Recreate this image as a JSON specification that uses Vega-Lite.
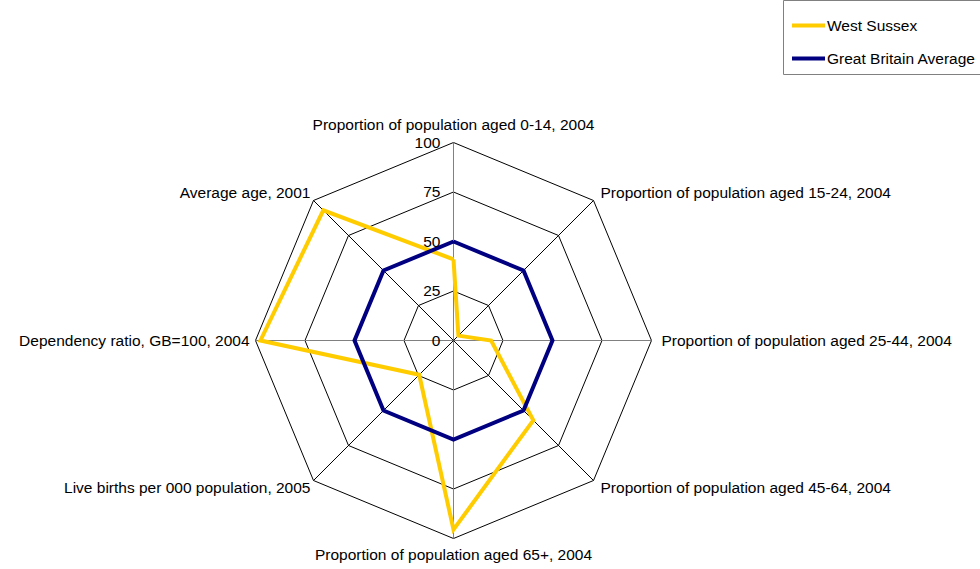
{
 "$schema": "https://vega.github.io/schema/vega-lite/v6.json",
 "width": 980, "height": 569, "padding": 0, "autosize": {"type": "none"},
 "background": "white",
 "config": {"view": {"stroke": null}, "font": "Liberation Sans", "text": {"font": "Liberation Sans", "fontSize": 15.5, "color": "black"}},
 "datasets": {
  "series": [
   {"series": "West Sussex", "idx": 0, "value": 41},
   {"series": "West Sussex", "idx": 1, "value": 3.5},
   {"series": "West Sussex", "idx": 2, "value": 19},
   {"series": "West Sussex", "idx": 3, "value": 57},
   {"series": "West Sussex", "idx": 4, "value": 95.5},
   {"series": "West Sussex", "idx": 5, "value": 24.5},
   {"series": "West Sussex", "idx": 6, "value": 97.5},
   {"series": "West Sussex", "idx": 7, "value": 93},
   {"series": "West Sussex", "idx": 8, "value": 41},
   {"series": "Great Britain Average", "idx": 0, "value": 50},
   {"series": "Great Britain Average", "idx": 1, "value": 50},
   {"series": "Great Britain Average", "idx": 2, "value": 50},
   {"series": "Great Britain Average", "idx": 3, "value": 50},
   {"series": "Great Britain Average", "idx": 4, "value": 50},
   {"series": "Great Britain Average", "idx": 5, "value": 50},
   {"series": "Great Britain Average", "idx": 6, "value": 50},
   {"series": "Great Britain Average", "idx": 7, "value": 50},
   {"series": "Great Britain Average", "idx": 8, "value": 50}
  ],
  "axes": [
   {"idx": 0, "axis": "Proportion of population aged 0-14, 2004"},
   {"idx": 1, "axis": "Proportion of population aged 15-24, 2004"},
   {"idx": 2, "axis": "Proportion of population aged 25-44, 2004"},
   {"idx": 3, "axis": "Proportion of population aged 45-64, 2004"},
   {"idx": 4, "axis": "Proportion of population aged 65+, 2004"},
   {"idx": 5, "axis": "Live births per 000 population, 2005"},
   {"idx": 6, "axis": "Dependency ratio, GB=100, 2004"},
   {"idx": 7, "axis": "Average age, 2001"}
  ],
  "grid": [
   {"k": 0, "levels": [25, 50, 75, 100]},
   {"k": 1, "levels": [25, 50, 75, 100]},
   {"k": 2, "levels": [25, 50, 75, 100]},
   {"k": 3, "levels": [25, 50, 75, 100]},
   {"k": 4, "levels": [25, 50, 75, 100]},
   {"k": 5, "levels": [25, 50, 75, 100]},
   {"k": 6, "levels": [25, 50, 75, 100]},
   {"k": 7, "levels": [25, 50, 75, 100]},
   {"k": 8, "levels": [25, 50, 75, 100]}
  ],
  "levels": [{"level": 0}, {"level": 25}, {"level": 50}, {"level": 75}, {"level": 100}]
 },
 "layer": [
  {
   "data": {"name": "grid"},
   "transform": [
    {"flatten": ["levels"], "as": ["level"]},
    {"calculate": "datum.level * sin(datum.k * PI / 4)", "as": "x"},
    {"calculate": "datum.level * cos(datum.k * PI / 4)", "as": "y"}
   ],
   "mark": {"type": "line", "stroke": "black", "strokeWidth": 1},
   "encoding": {
    "x": {"field": "x", "type": "quantitative", "axis": null, "scale": {"domain": [-229.04, 265.91], "nice": false, "zero": false}},
    "y": {"field": "y", "type": "quantitative", "axis": null, "scale": {"domain": [-115.4, 171.97], "nice": false, "zero": false}},
    "detail": {"field": "level", "type": "nominal"},
    "order": {"field": "k", "type": "quantitative"}
   }
  },
  {
   "data": {"name": "axes"},
   "transform": [
    {"calculate": "100 * sin(datum.idx * PI / 4)", "as": "x"},
    {"calculate": "100 * cos(datum.idx * PI / 4)", "as": "y"}
   ],
   "mark": {"type": "rule", "strokeWidth": 1},
   "encoding": {
    "x": {"field": "x", "type": "quantitative", "axis": null, "scale": {"domain": [-229.04, 265.91], "nice": false, "zero": false}},
    "y": {"field": "y", "type": "quantitative", "axis": null, "scale": {"domain": [-115.4, 171.97], "nice": false, "zero": false}},
    "x2": {"datum": 0},
    "y2": {"datum": 0},
    "stroke": {"condition": {"test": "datum.idx % 2 == 0", "value": "#808080"}, "value": "black"}
   }
  },
  {
   "data": {"name": "series"},
   "transform": [
    {"calculate": "datum.value * sin(datum.idx * PI / 4)", "as": "x"},
    {"calculate": "datum.value * cos(datum.idx * PI / 4)", "as": "y"}
   ],
   "mark": {"type": "line", "strokeWidth": 4, "strokeJoin": "miter"},
   "encoding": {
    "x": {"field": "x", "type": "quantitative", "axis": null, "scale": {"domain": [-229.04, 265.91], "nice": false, "zero": false}},
    "y": {"field": "y", "type": "quantitative", "axis": null, "scale": {"domain": [-115.4, 171.97], "nice": false, "zero": false}},
    "order": {"field": "idx", "type": "quantitative"},
    "color": {
     "field": "series", "type": "nominal",
     "scale": {"domain": ["West Sussex", "Great Britain Average"], "range": ["#FFCC00", "#000080"]},
     "legend": {"title": null, "orient": "none", "legendX": 783, "legendY": 0, "direction": "vertical",
      "symbolType": "stroke", "symbolStrokeWidth": 4, "symbolSize": 1089, "labelFontSize": 15.5, "labelOffset": 0,
      "labelFont": "Liberation Sans", "labelColor": "black", "padding": 7, "rowPadding": 6,
      "strokeColor": "#808080", "fillColor": "white", "cornerRadius": 0, "labelLimit": 300}
    }
   }
  },
  {
   "data": {"name": "levels"},
   "mark": {"type": "text", "align": "right", "baseline": "middle", "dx": -13},
   "encoding": {
    "x": {"datum": 0, "type": "quantitative", "axis": null, "scale": {"domain": [-229.04, 265.91], "nice": false, "zero": false}},
    "y": {"field": "level", "type": "quantitative", "axis": null, "scale": {"domain": [-115.4, 171.97], "nice": false, "zero": false}},
    "text": {"field": "level", "type": "quantitative"}
   }
  },
  {
   "data": {"name": "axes"},
   "transform": [
    {"filter": "datum.idx == 0"},
    {"calculate": "105 * sin(datum.idx * PI / 4)", "as": "x"},
    {"calculate": "105 * cos(datum.idx * PI / 4)", "as": "y"}
   ],
   "mark": {"type": "text", "align": "center", "baseline": "bottom"},
   "encoding": {
    "x": {"field": "x", "type": "quantitative", "axis": null, "scale": {"domain": [-229.04, 265.91], "nice": false, "zero": false}},
    "y": {"field": "y", "type": "quantitative", "axis": null, "scale": {"domain": [-115.4, 171.97], "nice": false, "zero": false}},
    "text": {"field": "axis", "type": "nominal"}
   }
  },
  {
   "data": {"name": "axes"},
   "transform": [
    {"filter": "datum.idx >= 1 && datum.idx <= 3"},
    {"calculate": "105 * sin(datum.idx * PI / 4)", "as": "x"},
    {"calculate": "105 * cos(datum.idx * PI / 4)", "as": "y"}
   ],
   "mark": {"type": "text", "align": "left", "baseline": "middle"},
   "encoding": {
    "x": {"field": "x", "type": "quantitative", "axis": null, "scale": {"domain": [-229.04, 265.91], "nice": false, "zero": false}},
    "y": {"field": "y", "type": "quantitative", "axis": null, "scale": {"domain": [-115.4, 171.97], "nice": false, "zero": false}},
    "text": {"field": "axis", "type": "nominal"}
   }
  },
  {
   "data": {"name": "axes"},
   "transform": [
    {"filter": "datum.idx == 4"},
    {"calculate": "105 * sin(datum.idx * PI / 4)", "as": "x"},
    {"calculate": "105 * cos(datum.idx * PI / 4)", "as": "y"}
   ],
   "mark": {"type": "text", "align": "center", "baseline": "top"},
   "encoding": {
    "x": {"field": "x", "type": "quantitative", "axis": null, "scale": {"domain": [-229.04, 265.91], "nice": false, "zero": false}},
    "y": {"field": "y", "type": "quantitative", "axis": null, "scale": {"domain": [-115.4, 171.97], "nice": false, "zero": false}},
    "text": {"field": "axis", "type": "nominal"}
   }
  },
  {
   "data": {"name": "axes"},
   "transform": [
    {"filter": "datum.idx >= 5"},
    {"calculate": "105 * sin(datum.idx * PI / 4)", "as": "x"},
    {"calculate": "105 * cos(datum.idx * PI / 4)", "as": "y"}
   ],
   "mark": {"type": "text", "align": "right", "baseline": "middle", "dx": 4},
   "encoding": {
    "x": {"field": "x", "type": "quantitative", "axis": null, "scale": {"domain": [-229.04, 265.91], "nice": false, "zero": false}},
    "y": {"field": "y", "type": "quantitative", "axis": null, "scale": {"domain": [-115.4, 171.97], "nice": false, "zero": false}},
    "text": {"field": "axis", "type": "nominal"}
   }
  }
 ]
}
